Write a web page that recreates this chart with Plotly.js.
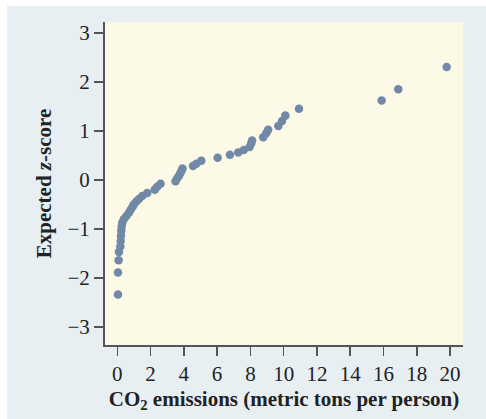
<!DOCTYPE html>
<html>
<head>
<meta charset="utf-8">
<script src="https://cdn.plot.ly/plotly-3.0.1.min.js"></script>
<style>html,body{margin:0;padding:0;background:#fff;}#chart{width:486px;height:419px;}</style>
</head>
<body>
<div id="chart"></div>
<script>
// CO2 emissions (metric tons per person) and expected z-scores
var co2 = [0.04, 0.04, 0.08, 0.10, 0.18, 0.20, 0.22, 0.24, 0.26, 0.30,
           0.40, 0.55, 0.70, 0.80, 0.92, 1.00, 1.15, 1.30, 1.50, 1.80,
           2.25, 2.40, 2.60, 3.50, 3.60, 3.70, 3.78, 3.85, 3.92, 4.55,
           4.75, 5.05, 6.03, 6.77, 7.27, 7.60, 7.95, 8.05, 8.10, 8.77,
           8.95, 9.07, 9.68, 9.90, 10.10, 10.92, 15.89, 16.89, 19.80];
var zscore = [-2.34, -1.89, -1.64, -1.47, -1.36, -1.25, -1.14, -1.04, -0.95, -0.87,
              -0.80, -0.74, -0.67, -0.61, -0.55, -0.50, -0.44, -0.39, -0.33, -0.27,
              -0.20, -0.14, -0.08, -0.03, 0.03, 0.08, 0.13, 0.18, 0.23, 0.28,
              0.33, 0.39, 0.45, 0.51, 0.56, 0.61, 0.67, 0.74, 0.80, 0.87,
              0.95, 1.02, 1.10, 1.20, 1.31, 1.45, 1.62, 1.85, 2.30];
var xTicks = [0, 2, 4, 6, 8, 10, 12, 14, 16, 18, 20];
var yTicks = [-3, -2, -1, 0, 1, 2, 3];

var serif = "Liberation Serif, Times New Roman, serif";
var trace = {
  x: co2, y: zscore, type: "scatter", mode: "markers",
  marker: {color: "#6f89a7", size: 8.5, line: {width: 0}},
  hoverinfo: "none"
};
var layout = {
  width: 486, height: 419,
  margin: {l: 105, r: 23, t: 22, b: 74},
  paper_bgcolor: "#e8eff3",
  plot_bgcolor: "#fdf9e7",
  showlegend: false,
  shapes: [
    {type: "rect", xref: "paper", yref: "paper", layer: "below",
     x0: -105/358, x1: -98/358, y0: -74/323, y1: 1 + 22/323,
     fillcolor: "#ffffff", line: {width: 0}},
    {type: "rect", xref: "paper", yref: "paper", layer: "below",
     x0: -105/358, x1: 1 + 23/358, y0: 1 + 16/323, y1: 1 + 22/323,
     fillcolor: "#ffffff", line: {width: 0}}
  ],
  xaxis: {
    range: [-0.74, 20.78], tickvals: xTicks, ticktext: xTicks.map(String),
    showgrid: false, zeroline: false, showline: true, linecolor: "#555", linewidth: 2,
    ticks: "outside", ticklen: 9, tickwidth: 1.5, tickcolor: "#555",
    tickfont: {family: serif, size: 21, color: "#222"},
    title: {text: "<b>CO<sub>2</sub> emissions (metric tons per person)</b>",
            font: {family: serif, size: 21, color: "#222"}, standoff: 6}
  },
  yaxis: {
    range: [-3.37, 3.22], tickvals: yTicks,
    ticktext: yTicks.map(function(v){return v < 0 ? "\u2212" + Math.abs(v) : String(v);}),
    showgrid: false, zeroline: false, showline: true, linecolor: "#555", linewidth: 2,
    ticks: "outside", ticklen: 9, tickwidth: 1.5, tickcolor: "#555",
    tickfont: {family: serif, size: 21, color: "#222"},
    title: {text: "<b>Expected <i>z</i>-score</b>",
            font: {family: serif, size: 21, color: "#222"}, standoff: 10}
  }
};
Plotly.newPlot("chart", [trace], layout, {displayModeBar: false, staticPlot: true});
</script>
</body>
</html>
